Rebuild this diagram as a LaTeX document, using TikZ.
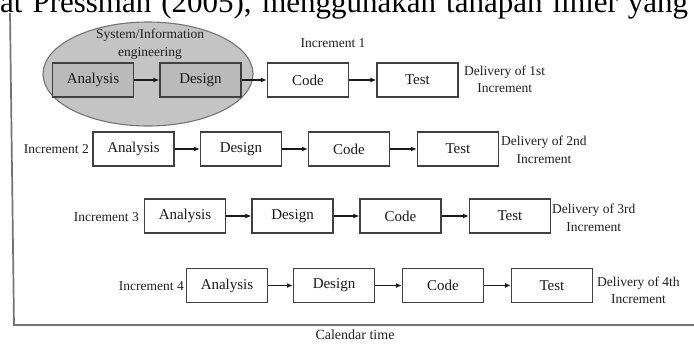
\documentclass[tikz,border=0pt]{standalone}
\usepackage{fontspec}
\setmainfont{Liberation Serif}
\usetikzlibrary{arrows.meta,shapes.geometric}

\begin{document}
\begin{tikzpicture}[x=1pt,y=-1pt,
  stage/.style={draw=black!75, line width=1.3pt, minimum width=81pt, minimum height=34pt,
    inner sep=0pt, font=\fontsize{15}{17}\selectfont, text=black!90, fill=white},
  shaded/.style={stage, fill=black!27},
  flow/.style={draw=black!90, line width=1.1pt, -{Latex[length=6pt,width=5pt]}},
  tag/.style={font=\fontsize{13.5}{17.5}\selectfont, text=black!88, inner sep=0pt, align=center},
  axis/.style={draw=black!55, line width=1.7pt}
]
\useasboundingbox (0,0) rectangle (694,343);

% running text line above the figure, cut by the page edge
\begin{scope}
  \clip (0,0) rectangle (694,343);
  \node[anchor=base west, inner sep=0pt, font=\fontsize{31}{36}\selectfont] (para) at (0,12)
    {\makebox[688pt][s]{at Pressman (2005), menggunakan tahapan linier yang}};
\end{scope}

% time axes
\coordinate (ytop) at (10,13);
\coordinate (orig) at (14,325);
\coordinate (xend) at (694,325);
\draw[axis] (ytop) -- (orig) -- (xend);
\node[tag, font=\fontsize{14}{16}\selectfont] (cal) at (355,335) {Calendar time};

% system / information engineering
\node[ellipse, draw=black!55, fill=black!23, line width=1.1pt, minimum width=210pt,
  minimum height=104pt, inner sep=0pt] (sys) at (148,74) {};
\node[tag] (syslbl) at (150,44) {System/Information\\engineering};

% increment 1
\node[shaded] (a1) at (93,80) {Analysis};
\node[shaded] (d1) at (200.5,80) {Design};
\node[stage] (c1) at (308,80) {Code};
\node[stage] (t1) at (417.5,80) {Test};
\node[tag] (inc1) at (333,43) {Increment 1};
\node[tag, anchor=west] (del1) at (464,79.5) {Delivery of 1st\\Increment};
\draw[flow] (a1) -- (d1);
\draw[flow] (d1) -- (c1);
\draw[flow] (c1) -- (t1);

% increment 2
\node[stage] (a2) at (133.5,149) {Analysis};
\node[stage] (d2) at (241,149) {Design};
\node[stage] (c2) at (349,149) {Code};
\node[stage] (t2) at (458,149) {Test};
\node[tag, anchor=east] (inc2) at (89,149) {Increment 2};
\node[tag, anchor=west] (del2) at (501,150) {Delivery of 2nd\\Increment};
\draw[flow] (a2) -- (d2);
\draw[flow] (d2) -- (c2);
\draw[flow] (c2) -- (t2);

% increment 3
\node[stage] (a3) at (185,216) {Analysis};
\node[stage] (d3) at (292.5,216) {Design};
\node[stage] (c3) at (400.5,216) {Code};
\node[stage] (t3) at (510,216) {Test};
\node[tag, anchor=east] (inc3) at (139,217) {Increment 3};
\node[tag, anchor=west] (del3) at (552,218) {Delivery of 3rd\\Increment};
\draw[flow] (a3) -- (d3);
\draw[flow] (d3) -- (c3);
\draw[flow] (c3) -- (t3);

% increment 4
\node[stage] (a4) at (227,285.5) {Analysis};
\node[stage] (d4) at (334,285.5) {Design};
\node[stage] (c4) at (443,285.5) {Code};
\node[stage] (t4) at (552,285.5) {Test};
\node[tag, anchor=east] (inc4) at (184,286) {Increment 4};
\node[tag, anchor=west] (del4) at (597,290.5) {Delivery of 4th\\Increment};
\draw[flow] (a4) -- (d4);
\draw[flow] (d4) -- (c4);
\draw[flow] (c4) -- (t4);
\end{tikzpicture}
\end{document}
